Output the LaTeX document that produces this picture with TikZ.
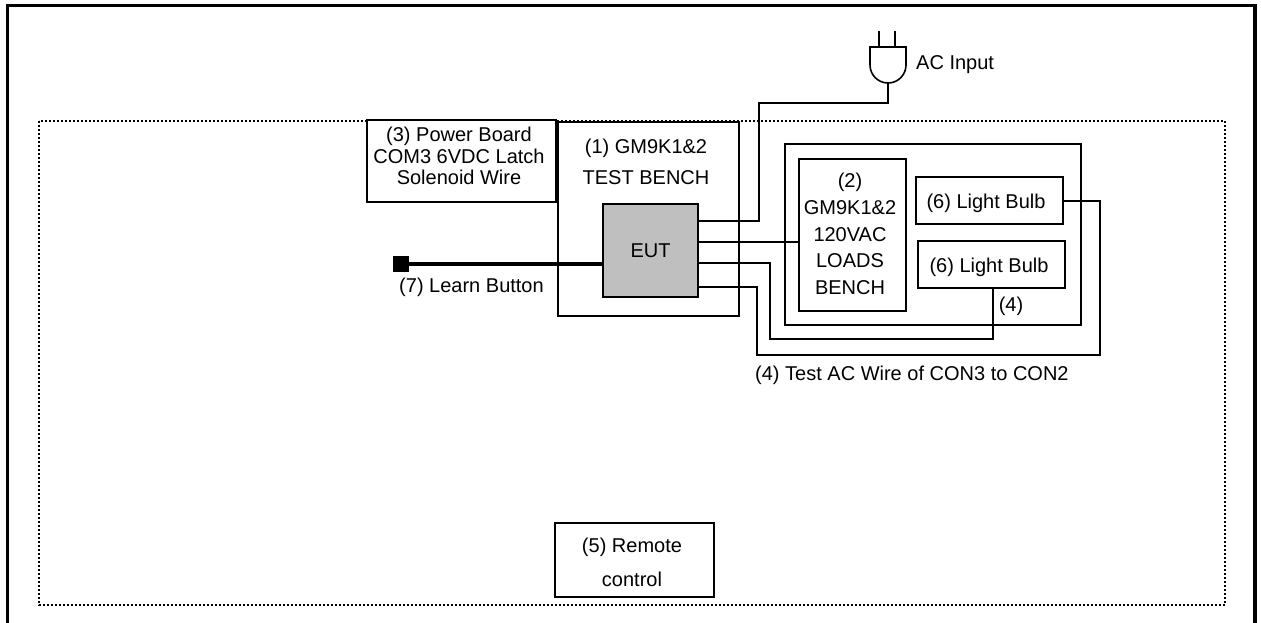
\documentclass[tikz,border=0pt]{standalone}
\usepackage{fontspec}
\setmainfont{Liberation Sans}
\usetikzlibrary{calc,positioning}

\begin{document}
\begin{tikzpicture}[
  x=1pt,y=-1pt,
  caja/.style={draw,line width=1.6pt,inner sep=0pt,outer sep=0pt,align=center,
    font=\fontsize{20}{21.5}\selectfont},
  rotulo/.style={inner sep=0pt,align=center,font=\fontsize{20}{21.5}\selectfont},
  cable/.style={draw,line width=1.6pt}
  ]

  \useasboundingbox (0,0) rectangle (1261,623);

  \draw[line width=3.4pt] (7.5,623) -- (7.5,5.5) -- (1255,5.5) -- (1255,623);
  \draw[line width=1.6pt,dash pattern=on 2pt off 2pt] (39,121) rectangle (1225,605);

  \node[caja,fill=white,minimum width=189pt,minimum height=82pt] (power) at (461.5,161) {};
  \node[rotulo] (powertxt) at (459,156) {(3) Power Board\\COM3 6VDC Latch\\Solenoid Wire};
  \node[caja,minimum width=181pt,minimum height=194pt] (bench) at (648.5,219) {};
  \node[rotulo,font=\fontsize{20}{31}\selectfont] (benchtxt) at (646,161.5) {(1) GM9K1\&2\\TEST BENCH};
  \node[caja,fill=black!25,line width=2.4pt,minimum width=95pt,minimum height=93pt] (eut) at (650.5,250.5) {EUT};

  \node[caja,minimum width=296pt,minimum height=181pt] (cargas) at (933,234.5) {};
  \node[caja,minimum width=107pt,minimum height=152pt] (loads) at (852.5,235) {};
  \node[rotulo,font=\fontsize{20}{26.6}\selectfont] (loadstxt) at (850,234)
    {(2)\\GM9K1\&2\\120VAC\\LOADS\\BENCH};
  \node[caja,minimum width=147pt,minimum height=47pt] (bulba) at (989.5,200.5) {};
  \node[rotulo] (bulbatxt) at (986,203) {(6) Light Bulb};
  \node[caja,minimum width=147pt,minimum height=47pt] (bulbb) at (991.5,264.5) {};
  \node[rotulo] (bulbbtxt) at (989,267) {(6) Light Bulb};
  \node[caja,minimum width=159pt,minimum height=74pt] (remote) at (634.5,560) {};
  \node[rotulo,font=\fontsize{20}{34}\selectfont] (remotetxt) at (632,562) {(5) Remote\\control};

  \node[draw=none,fill=black,minimum size=16pt,inner sep=0pt,outer sep=0pt] (learn) at (401,264) {};
  \node[rotulo] (learntxt) at (471.5,287) {(7) Learn Button};
  \node[rotulo,anchor=west] (acin) at (916,65) {AC Input};
  \node[rotulo] (cuatro) at (1011,306) {(4)};
  \node[rotulo,anchor=west] (prueba) at (755,375) {(4) Test AC Wire of CON3 to CON2};

  % enchufe
  \coordinate (plugtop) at (888,47);
  \coordinate (plugbot) at (888,83);
  \draw[line width=1.6pt] (870,47) -- (906,47) -- (906,65) arc[start angle=0,end angle=180,radius=18] -- cycle;
  \draw[line width=1.6pt] (879,47) -- (879,31);
  \draw[line width=1.6pt] (895,47) -- (895,31);

  % cables
  \coordinate (wa) at (eut.east |- 0,221);
  \coordinate (wb) at (eut.east |- 0,242);
  \coordinate (wc) at (eut.east |- 0,263);
  \coordinate (wd) at (eut.east |- 0,287);

  \draw[line width=3.6pt] (learn) -- (eut.west |- learn);
  \draw[cable] (wa) -| (759,103) -| (plugbot);
  \draw[cable] (wb) -- (loads.west |- wb);
  \draw[cable] (wc) -| (770,339) -| (993,288);
  \draw[cable] (wd) -| (757,355) -| (1100,201) -- (bulba.east |- 0,201);

\end{tikzpicture}
\end{document}
